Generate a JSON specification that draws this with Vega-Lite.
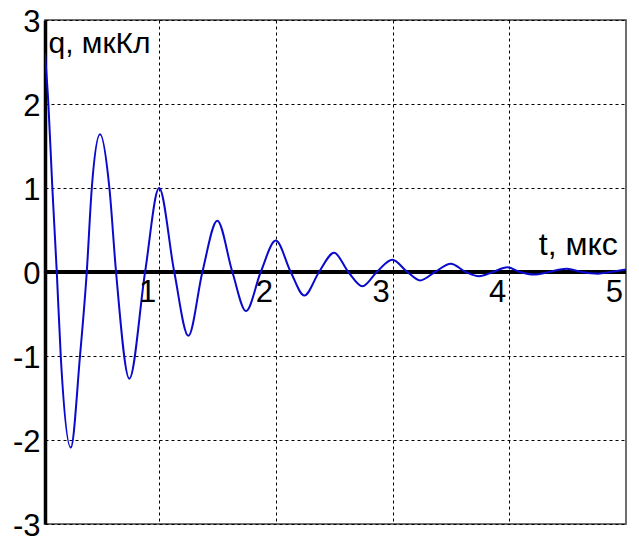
{
  "$schema": "https://vega.github.io/schema/vega-lite/v6.json",
  "width": 581,
  "height": 504,
  "autosize": "none",
  "padding": {"left": 45, "top": 20, "right": 13, "bottom": 20},
  "background": "white",
  "config": {
    "view": {"stroke": "#404040", "strokeWidth": 1.5},
    "font": "Liberation Sans"
  },
  "datasets": {
    "curve": [
      {"t": 0.02, "q": 2.6},
      {"t": 0.049, "q": 2.0},
      {"t": 0.083, "q": 1.0},
      {"t": 0.121, "q": 0.0},
      {"t": 0.155, "q": -1.0},
      {"t": 0.241, "q": -2.09},
      {"t": 0.32, "q": -1.0},
      {"t": 0.378, "q": 0.0},
      {"t": 0.421, "q": 1.0},
      {"t": 0.492, "q": 1.64},
      {"t": 0.572, "q": 1.0},
      {"t": 0.629, "q": 0.0},
      {"t": 0.743, "q": -1.27},
      {"t": 0.878, "q": 0.0},
      {"t": 0.998, "q": 1.0},
      {"t": 1.128, "q": 0.0},
      {"t": 1.249, "q": -0.76},
      {"t": 1.369, "q": 0.0},
      {"t": 1.497, "q": 0.61},
      {"t": 1.626, "q": 0.0},
      {"t": 1.743, "q": -0.465},
      {"t": 1.869, "q": 0.0},
      {"t": 1.998, "q": 0.374},
      {"t": 2.126, "q": 0.0},
      {"t": 2.243, "q": -0.28},
      {"t": 2.369, "q": 0.0},
      {"t": 2.498, "q": 0.228},
      {"t": 2.62, "q": 0.0},
      {"t": 2.741, "q": -0.169},
      {"t": 2.864, "q": 0.0},
      {"t": 2.997, "q": 0.145},
      {"t": 3.126, "q": 0.0},
      {"t": 3.235, "q": -0.1},
      {"t": 3.363, "q": 0.0},
      {"t": 3.498, "q": 0.097},
      {"t": 3.626, "q": 0.0},
      {"t": 3.74, "q": -0.05},
      {"t": 3.86, "q": 0.0},
      {"t": 3.983, "q": 0.057},
      {"t": 4.09, "q": 0.0},
      {"t": 4.21, "q": -0.03},
      {"t": 4.34, "q": 0.0},
      {"t": 4.49, "q": 0.04},
      {"t": 4.62, "q": 0.0},
      {"t": 4.76, "q": -0.02},
      {"t": 4.87, "q": 0.0},
      {"t": 5.0, "q": 0.03}
    ],
    "xlabels": [
      {"t": 1, "label": "1"},
      {"t": 2, "label": "2"},
      {"t": 3, "label": "3"},
      {"t": 4, "label": "4"},
      {"t": 5, "label": "5"}
    ],
    "ytitle": [{"t": 0.05, "q": 2.61, "label": "q, мкКл"}],
    "xtitle": [{"t": 4.93, "q": 0.2, "label": "t, мкс"}]
  },
  "layer": [
    {
      "data": {"name": "curve"},
      "mark": {"type": "rule", "color": "black", "strokeWidth": 4},
      "encoding": {"y": {"datum": 0, "type": "quantitative"}}
    },
    {
      "data": {"name": "curve"},
      "mark": {"type": "line", "color": "#0a0acc", "strokeWidth": 2, "interpolate": "monotone", "clip": true},
      "encoding": {
        "x": {
          "field": "t", "type": "quantitative",
          "scale": {"domain": [0.02, 5], "nice": false, "zero": false},
          "axis": {
            "values": [1, 2, 3, 4], "grid": true, "gridDash": [3, 3], "gridColor": "black",
            "gridOpacity": 1, "gridWidth": 1, "labels": false, "ticks": false, "domain": false, "title": null
          }
        },
        "y": {
          "field": "q", "type": "quantitative",
          "scale": {"domain": [-3, 3], "nice": false},
          "axis": {
            "values": [-3, -2, -1, 0, 1, 2, 3], "grid": true, "gridDash": [3, 3], "gridColor": "black",
            "gridOpacity": 1, "gridWidth": 1, "ticks": false, "domain": true, "domainColor": "black",
            "domainWidth": 3.5, "title": null, "labelFontSize": 31, "labelColor": "black",
            "labelPadding": 5, "labelOffset": 2, "labelExpr": "'' + datum.value", "labelFont": "Liberation Sans"
          }
        }
      }
    },
    {
      "data": {"name": "xlabels"},
      "mark": {"type": "text", "fontSize": 31, "align": "right", "baseline": "top", "dx": -3, "dy": 6, "color": "black"},
      "encoding": {
        "x": {"field": "t", "type": "quantitative"},
        "y": {"datum": 0, "type": "quantitative"},
        "text": {"field": "label"}
      }
    },
    {
      "data": {"name": "ytitle"},
      "mark": {"type": "text", "fontSize": 30, "align": "left", "baseline": "alphabetic", "color": "black"},
      "encoding": {
        "x": {"field": "t", "type": "quantitative"},
        "y": {"field": "q", "type": "quantitative"},
        "text": {"field": "label"}
      }
    },
    {
      "data": {"name": "xtitle"},
      "mark": {"type": "text", "fontSize": 32, "align": "right", "baseline": "alphabetic", "color": "black"},
      "encoding": {
        "x": {"field": "t", "type": "quantitative"},
        "y": {"field": "q", "type": "quantitative"},
        "text": {"field": "label"}
      }
    }
  ]
}
